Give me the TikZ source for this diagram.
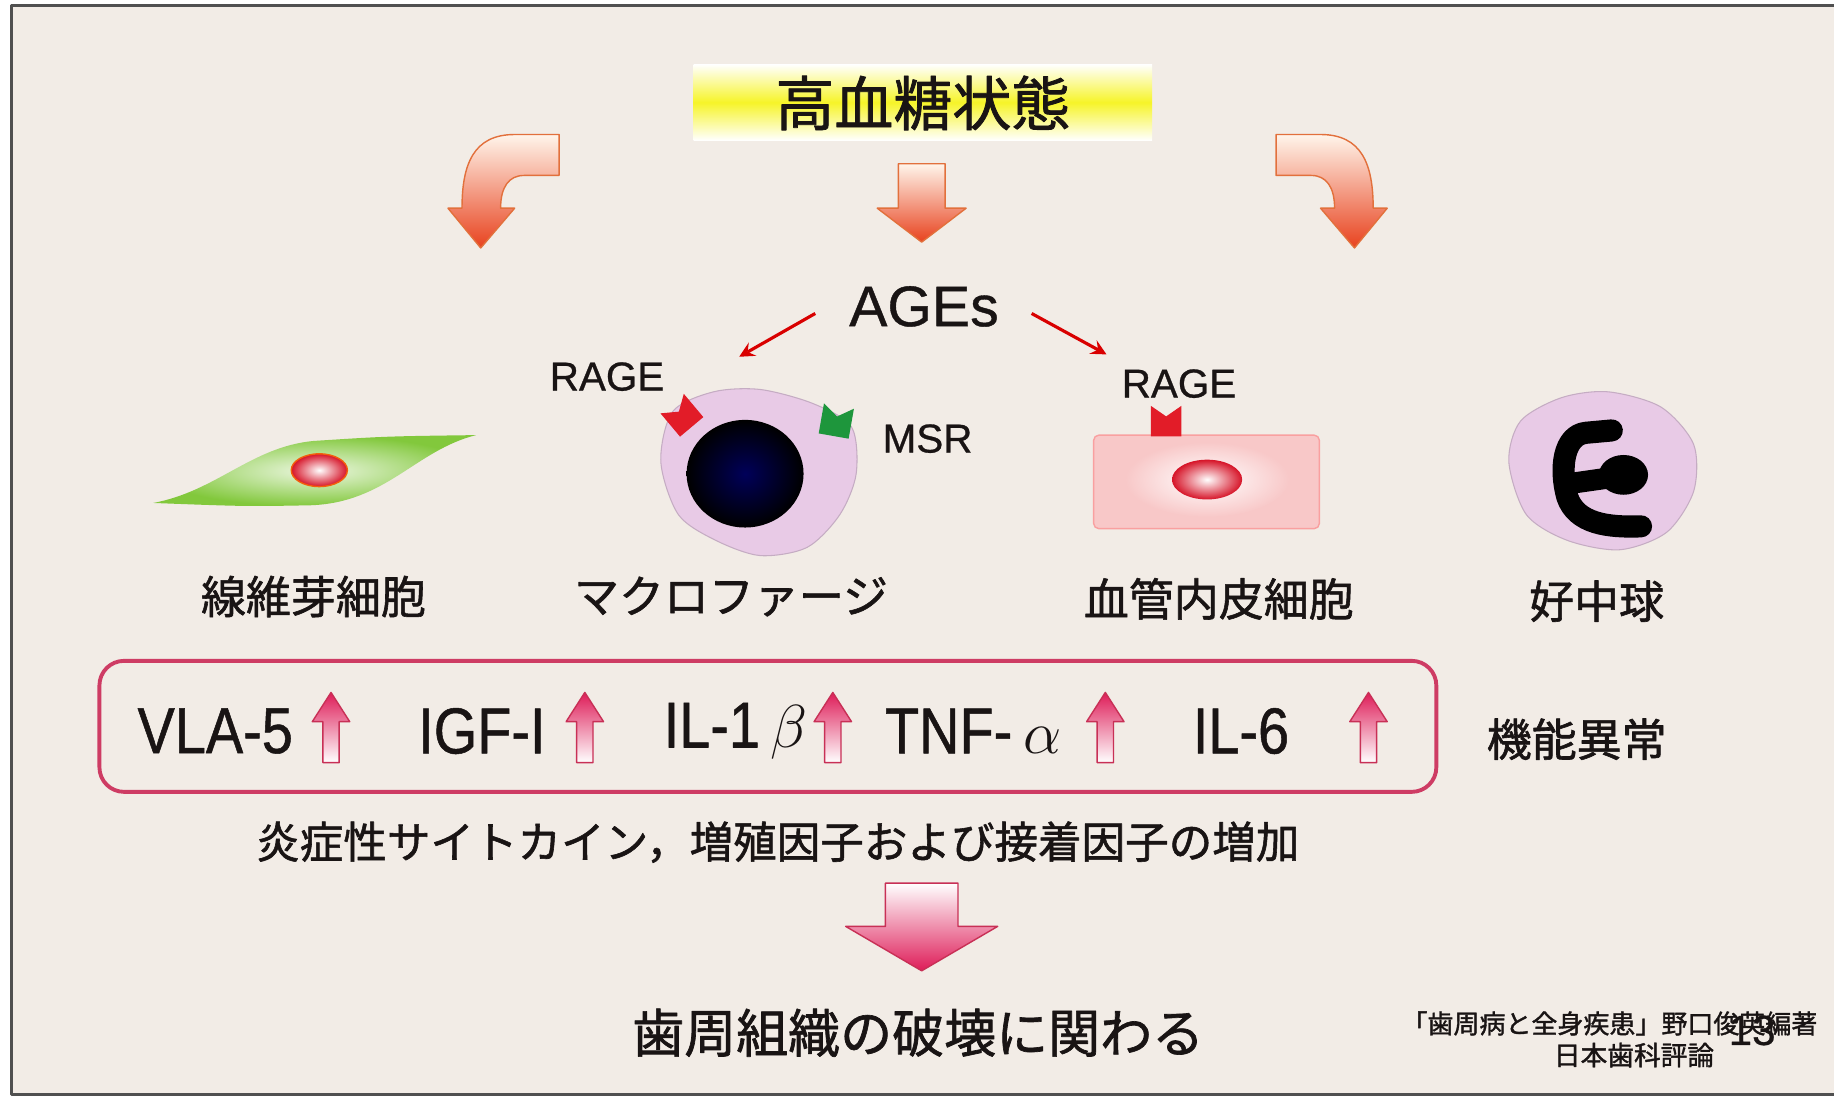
\documentclass[tikz,border=0pt]{standalone}
\usepackage{fontspec}
\setmainfont{Liberation Sans}[FakeBold=0.7]
\newfontfamily\jp{Noto Sans CJK JP}[FakeBold=1.3]
\newfontfamily\narrowsf{Liberation Sans}[FakeStretch=0.86, FakeBold=0.8]
\definecolor{paper}{RGB}{242,236,230}
\definecolor{framegray}{RGB}{80,80,80}
\definecolor{ink}{RGB}{25,20,20}
\definecolor{hiyellow}{RGB}{246,244,40}
\definecolor{orangered}{RGB}{232,66,30}
\definecolor{orangeline}{RGB}{226,112,60}
\definecolor{pinkred}{RGB}{222,28,88}
\definecolor{pinkline}{RGB}{200,48,86}
\definecolor{boxline}{RGB}{206,60,100}
\definecolor{cellpink}{RGB}{232,202,230}
\definecolor{endopink}{RGB}{248,200,200}
\definecolor{nucred}{RGB}{214,20,40}
\definecolor{leafgreen}{RGB}{130,200,60}
\definecolor{recgreen}{RGB}{30,150,60}
\definecolor{recred}{RGB}{226,28,40}
% bent arrow, tip at (0,0)
\newcommand\bentarrow{(67,-97) -- (29,-97) .. controls (-6,-97) and (-16,-72) .. (-16,-34)
  -- (-28,-34) -- (0,0) -- (29,-34) -- (17,-34) .. controls (17,-52) and (24,-62) .. (37,-62)
  -- (67,-62) -- cycle}
\begin{document}
\begin{tikzpicture}[x=0.011696cm, y=-0.011696cm, line join=round, >=stealth]
\tikzset{
  jp label/.style={font=\jp\fontsize{12.8}{14}\selectfont, text=ink, inner sep=0pt},
  latin label/.style={font=\fontsize{11.5}{13}\selectfont, text=ink, inner sep=0pt},
  factor/.style={font=\narrowsf\fontsize{18.5}{20}\selectfont, text=ink, inner sep=0pt},
  orange arrow/.style={top color=orange!8, bottom color=orangered, draw=orangeline, line width=0.4pt},
  pink arrow/.style={top color=pinkred, bottom color=white, draw=pinkline, line width=0.4pt},
  age arrow/.style={->, draw=red!85!black, line width=0.9pt},
  receptor/.pic={\path[pic actions] (-13,-13) -- (0,-4) -- (13,-13) -- (13,13) -- (-13,13) -- cycle;}
}
\useasboundingbox (0,0) rectangle (1568,938);
\fill[white] (0,0) rectangle (1568,938);
\filldraw[fill=paper, draw=framegray, line width=0.8pt] (10,5) rectangle (1600,936);

% top: hyperglycaemia
\shade[top color=white, bottom color=white, middle color=hiyellow] (593,55) rectangle (985,120);
\node[font=\jp\fontsize{16.8}{18}\selectfont, text=ink] (hyper) at (789,88) {高血糖状態};
\begin{scope}[shift={(411,212)}]
  \shadedraw[orange arrow] \bentarrow;
\end{scope}
\begin{scope}[shift={(1158,212)}, xscale=-1]
  \shadedraw[orange arrow] \bentarrow;
\end{scope}
\shadedraw[orange arrow] (768,140) -- (808,140) -- (808,178) -- (826,178) -- (788,207)
  -- (750,178) -- (768,178) -- cycle;

% AGEs and receptors
\node[font=\fontsize{16.3}{18}\selectfont, text=ink] (ages) at (790,262) {AGEs};
\coordinate (agesl) at (697,268);
\coordinate (agesr) at (882,268);
\coordinate (macin) at (632,305);
\coordinate (endoin) at (946,303);
\draw[age arrow] (agesl) -- (macin);
\draw[age arrow] (agesr) -- (endoin);
\node[latin label] (rage1) at (519,322) {RAGE};
\node[latin label] (rage2) at (1008,328) {RAGE};
\node[latin label] (msr) at (793,375) {MSR};

% fibroblast
\shade[inner color=leafgreen!15!white, outer color=leafgreen]
  (131,430) .. controls (185,420) and (215,382) .. (268,377) .. controls (330,373) .. (407,372)
  .. controls (355,385) and (330,430) .. (265,432) .. controls (210,433) .. (131,430);
\shadedraw[inner color=white, outer color=nucred, draw=orange!70!nucred, line width=0.4pt]
  (273,402) ellipse [x radius=24, y radius=14];

% macrophage
\filldraw[fill=cellpink, draw=cellpink!85!black, line width=0.3pt] plot[smooth cycle] coordinates
  {(565,395) (575,352) (610,335) (650,333) (695,345) (728,365) (732,405) (718,440) (690,468)
   (650,475) (612,462) (580,440)};
\shade[inner color=blue!35!black, outer color=black] (637,405) ellipse [x radius=50, y radius=46];
\pic[fill=recred, rotate=40] at (583,355) {receptor};
\pic[fill=recgreen, rotate=-10] at (715,360) {receptor};

% endothelial cell
\filldraw[fill=endopink, draw=endopink!80!red, line width=0.4pt, rounded corners=1.5pt] (935,372) rectangle (1128,452);
\shade[inner color=white, outer color=endopink] (1032,410) ellipse [x radius=70, y radius=32];
\shade[inner color=white, outer color=nucred] (1032,410) ellipse [x radius=30, y radius=17];
\pic[fill=recred] at (997,360) {receptor};

% neutrophil
\filldraw[fill=cellpink, draw=cellpink!85!black, line width=0.3pt] plot[smooth cycle] coordinates
  {(1290,395) (1300,360) (1335,340) (1375,335) (1420,348) (1448,380) (1448,420) (1425,455)
   (1385,470) (1340,462) (1305,440)};
\draw[black, line width=6.3pt, line cap=round] (1378,368) -- (1356,370)
  .. controls (1337,372) and (1333,400) .. (1340,425) .. controls (1348,448) and (1375,451) .. (1403,450);
\draw[black, line width=6pt, line cap=round] (1345,413) -- (1380,408);
\fill[black] (1388,406) ellipse [x radius=21, y radius=17];

\node[jp label] (fib) at (268,510) {線維芽細胞};
\node[jp label] (mac) at (625,510) {マクロファージ};
\node[jp label] (endo) at (1042,512) {血管内皮細胞};
\node[jp label] (neut) at (1365,514) {好中球};

% factors
\draw[boxline, line width=1.1pt, rounded corners=7pt] (85,565) rectangle (1228,677);
\node[factor] (vla) at (184,625) {VLA-5};
\node[factor] (igf) at (412,625) {IGF-I};
\node[factor] (ilb) at (629,625) {IL-1\,$\beta$};
\node[factor] (tnf) at (832,625) {TNF-\,$\alpha$};
\node[factor] (il6) at (1061,625) {IL-6};
\foreach \x in {283,500,712,945,1170}
  \shadedraw[pink arrow] (\x,592) -- (\x+16,617) -- (\x+7,617) -- (\x+7,652) -- (\x-7,652)
    -- (\x-7,617) -- (\x-16,617) -- cycle;
\node[jp label] (dys) at (1348,632) {機能異常};
\node[jp label, font=\jp\fontsize{12.4}{14}\selectfont] (incr) at (665,720)
  {炎症性サイトカイン，増殖因子および接着因子の増加};

% result
\shadedraw[top color=white, bottom color=pinkred, draw=pinkline, line width=0.4pt]
  (757,755) -- (819,755) -- (819,792) -- (853,792) -- (788,830) -- (723,792) -- (757,792) -- cycle;
\node[jp label, font=\jp\fontsize{14.8}{16}\selectfont] (perio) at (785,883) {歯周組織の破壊に関わる};
\node[jp label, font=\jp\fontsize{7.4}{9}\selectfont] (cite1) at (1376,875) {「歯周病と全身疾患」野口俊英編著};
\node[jp label, font=\jp\fontsize{7.6}{9}\selectfont] (cite2) at (1397,902) {日本歯科評論};
\node[font=\fontsize{12}{14}\selectfont, text=ink, inner sep=0pt] (page) at (1498,881) {13};
\end{tikzpicture}
\end{document}
